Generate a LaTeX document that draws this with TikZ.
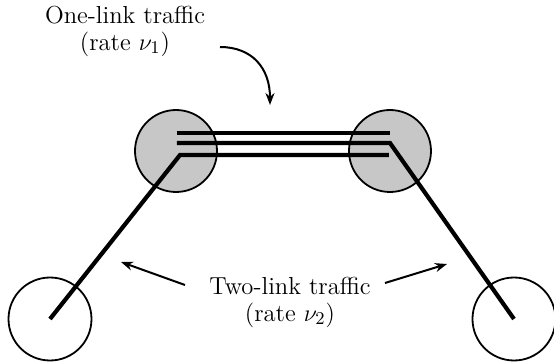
\documentclass[tikz,border=0pt]{standalone}
\usetikzlibrary{arrows.meta}
\begin{document}
\begin{tikzpicture}[x=0.5pt,y=-0.5pt,
  hub/.style={circle,draw=black,line width=0.9pt,fill=black!22,minimum size=41pt,inner sep=0pt},
  endnode/.style={circle,draw=black,line width=0.9pt,minimum size=41.5pt,inner sep=0pt},
  trunk/.style={line width=2.1pt,line join=miter},
  pointer/.style={line width=1pt,-{Stealth[length=6pt,width=4.5pt]}},
  lbl/.style={align=center,font=\fontsize{12.3}{13.5}\selectfont,inner sep=0pt}]
\useasboundingbox (0,0) rectangle (554,364);
\node[hub] (L) at (176,151) {};
\node[hub] (R) at (390,151) {};
\node[endnode] (LL) at (50,319) {};
\node[endnode] (LR) at (514,319) {};
% one-link traffic lines
\coordinate (t1) at (177,133);
\coordinate (t2) at (390,133);
\coordinate (m1) at (177,143);
\coordinate (m2) at (390,143);
\coordinate (b1) at (180,155);
\coordinate (b2) at (389,155);
\draw[trunk] (t1) -- (t2);
\draw[trunk] (m1) -- (m2) -- (LR.center);
\draw[trunk] (b2) -- (b1) -- (LL.center);
% labels
\node[lbl] (one) at (125,31) {One-link traffic\\(rate $\nu_1$)};
\node[lbl] (two) at (290,302) {Two-link traffic\\(rate $\nu_2$)};
% arrows
\coordinate (c0) at (220,47);
\coordinate (c1) at (270,105);
\draw[pointer] (c0) .. controls (252,47) and (270,68) .. (c1);
\coordinate (a1) at (185,285);
\coordinate (a2) at (121,262);
\draw[pointer] (a1) -- (a2);
\coordinate (a3) at (385,283);
\coordinate (a4) at (447,264);
\draw[pointer] (a3) -- (a4);
\end{tikzpicture}
\end{document}
